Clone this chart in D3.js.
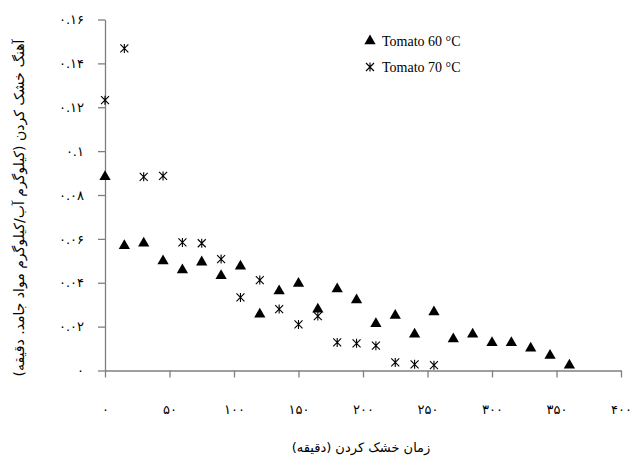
<!DOCTYPE html>
<html>
<head>
<meta charset="utf-8">
<script src="https://cdn.jsdelivr.net/npm/d3@7"></script>
<style>
  body { margin: 0; background: #fff; }
  svg { display: block; }
</style>
</head>
<body>
<div id="chart"></div>
<script>
// داده ها (زمان به دقیقه)
const time60 = [0, 15, 30, 45, 60, 75, 90, 105, 120, 135, 150, 165, 180, 195, 210, 225, 240, 255, 270, 285, 300, 315, 330, 345, 360];
const rate60 = [0.0883, 0.0569, 0.058, 0.0499, 0.0458, 0.0494, 0.0432, 0.0475, 0.0256, 0.0362, 0.0397, 0.0279, 0.0371, 0.0321, 0.0213, 0.0251, 0.0165, 0.0267, 0.0144, 0.0165, 0.0127, 0.0127, 0.0101, 0.0068, 0.0024];
const time70 = [0, 15, 30, 45, 60, 75, 90, 105, 120, 135, 150, 165, 180, 195, 210, 225, 240, 255];
const rate70 = [0.1232, 0.1468, 0.0883, 0.0887, 0.0584, 0.058, 0.0508, 0.0333, 0.0412, 0.028, 0.021, 0.0248, 0.0128, 0.0124, 0.0113, 0.0037, 0.0028, 0.0024];
const xTicks = [0, 50, 100, 150, 200, 250, 300, 350, 400];
const yTicks = [0, 0.02, 0.04, 0.06, 0.08, 0.1, 0.12, 0.14, 0.16];
const seriesNames = ["Tomato 60 °C", "Tomato 70 °C"];

const xTitle = "زمان خشک کردن (دقیقه)";
const yTitle = "آهنگ خشک کردن (کیلوگرم آب/کیلوگرم مواد جامد. دقیقه)";

// ارقام فارسی
const faDigits = "۰۱۲۳۴۵۶۷۸۹";
const toFa = (v) => String(+v.toFixed(2)).replace(/[0-9]/g, (c) => faDigits[+c]);

const W = 637, H = 461;
const svg = d3.select("#chart").append("svg").attr("width", W).attr("height", H);

const x = d3.scaleLinear().domain([0, 400]).range([105, 621]);
const y = d3.scaleLinear().domain([0, 0.16]).range([370.5, 19.5]);

const faFont = "'DejaVu Sans', sans-serif";
const axisColor = "#7f7f7f";

// محور افقی
const gx = svg.append("g")
  .attr("transform", `translate(0,${y(0)})`)
  .call(d3.axisBottom(x).tickValues(xTicks).tickSize(7).tickSizeOuter(0).tickPadding(27).tickFormat(toFa));

// محور عمودی
const gy = svg.append("g")
  .attr("transform", `translate(${x(0)},0)`)
  .call(d3.axisLeft(y).tickValues(yTicks).tickSize(7).tickSizeOuter(0).tickPadding(14).tickFormat(toFa));

[gx, gy].forEach((g) => {
  g.select(".domain").attr("stroke", axisColor).attr("stroke-width", 1.3);
  g.selectAll(".tick line").attr("stroke", axisColor).attr("stroke-width", 1.3);
  g.selectAll(".tick text").attr("fill", "#000").attr("font-family", faFont).attr("font-size", 13);
});

// عنوان محورها
svg.append("text")
  .attr("x", 361).attr("y", 452)
  .attr("text-anchor", "middle")
  .attr("font-family", faFont).attr("font-size", 13)
  .attr("direction", "rtl")
  .text(xTitle);

svg.append("text")
  .attr("transform", `translate(24,208) rotate(-90)`)
  .attr("text-anchor", "middle")
  .attr("font-family", faFont).attr("font-size", 14)
  .attr("direction", "rtl")
  .text(yTitle);

// نشانه ها
const tri = d3.symbol().type(d3.symbolTriangle).size(55);
const star = "M-4,-4L4,4M-4,4L4,-4M0,-4.5L0,4.5";

const pts60 = time60.map((t, i) => ({ t, r: rate60[i] }));
const pts70 = time70.map((t, i) => ({ t, r: rate70[i] }));

svg.append("g").selectAll("path")
  .data(pts60)
  .join("path")
  .attr("d", tri)
  .attr("transform", (d) => `translate(${x(d.t)},${y(d.r)})`)
  .attr("fill", "#000");

svg.append("g").selectAll("path")
  .data(pts70)
  .join("path")
  .attr("d", star)
  .attr("transform", (d) => `translate(${x(d.t)},${y(d.r)})`)
  .attr("fill", "none")
  .attr("stroke", "#000")
  .attr("stroke-width", 1.1);

// راهنما
const legend = svg.append("g").attr("transform", "translate(370,41)");
legend.append("path").attr("d", tri).attr("fill", "#000");
legend.append("path").attr("d", star).attr("transform", "translate(0,26)")
  .attr("fill", "none").attr("stroke", "#000").attr("stroke-width", 1.1);
legend.selectAll("text")
  .data(seriesNames)
  .join("text")
  .attr("x", 12)
  .attr("y", (d, i) => i * 26 + 5)
  .attr("font-family", "'Liberation Serif', serif")
  .attr("font-size", 14)
  .text((d) => d);
</script>
</body>
</html>
